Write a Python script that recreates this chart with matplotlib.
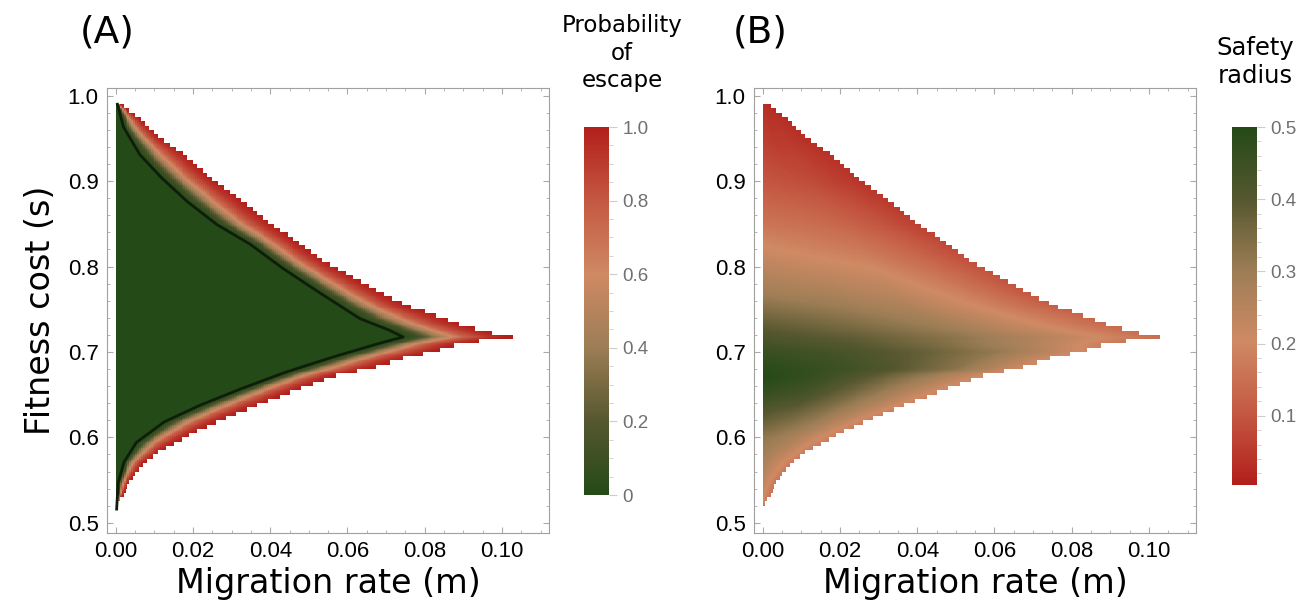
import numpy as np
import matplotlib.pyplot as plt
from matplotlib.colors import LinearSegmentedColormap
from matplotlib.ticker import MultipleLocator

# outer edge of the region where escape is possible
upper_s = [0.992, 0.9726, 0.951, 0.933, 0.904, 0.880, 0.855, 0.833, 0.810, 0.792,
           0.773, 0.755, 0.745, 0.731, 0.7215, 0.7175]
upper_m = [0.0005, 0.0063, 0.0113, 0.0172, 0.0246, 0.0318, 0.0387, 0.0457, 0.0527, 0.0596,
           0.0672, 0.0749, 0.0816, 0.0900, 0.0983, 0.1030]
lower_s = [0.7175, 0.7118, 0.7079, 0.700, 0.692, 0.680, 0.6726, 0.6588, 0.643, 0.631,
           0.6176, 0.6039, 0.588, 0.5706, 0.547, 0.5215]
lower_m = [0.1030, 0.0925, 0.0878, 0.0822, 0.0740, 0.0656, 0.0570, 0.0485, 0.0398, 0.0330,
           0.0258, 0.0195, 0.0130, 0.0074, 0.0034, 0.0005]

# black contour in panel A
inner_up_s = [0.990, 0.963, 0.931, 0.904, 0.876, 0.849, 0.826, 0.798, 0.771, 0.739, 0.7255, 0.7175]
inner_up_m = [0.0004, 0.0020, 0.0062, 0.0118, 0.0185, 0.0262, 0.0348, 0.0432, 0.0522, 0.0632, 0.0708, 0.0744]
inner_lo_s = [0.7175, 0.710, 0.694, 0.676, 0.657, 0.637, 0.618, 0.594, 0.571, 0.547, 0.516]
inner_lo_m = [0.0744, 0.0682, 0.0562, 0.0438, 0.0325, 0.0215, 0.0125, 0.0053, 0.0021, 0.0006, 0.0002]

# escape probability across the band (0 = black contour, 1 = outer edge)
a_frac = [0.0, 0.15, 0.3, 0.45, 0.6, 0.8, 1.0]
a_prob = [0.0, 0.10, 0.35, 0.58, 0.78, 0.92, 1.0]

# safety radius, rows = s, columns = fraction of the way to the outer edge
b_s = [0.52, 0.55, 0.57, 0.60, 0.62, 0.65, 0.67, 0.68, 0.70, 0.7175,
       0.73, 0.75, 0.77, 0.80, 0.82, 0.85, 0.90, 0.95, 0.99]
b_frac = [0.0, 0.25, 0.5, 0.75, 1.0]
b_r = [[0.20, 0.19, 0.18, 0.17, 0.16],
       [0.24, 0.22, 0.20, 0.18, 0.16],
       [0.27, 0.25, 0.23, 0.20, 0.17],
       [0.32, 0.30, 0.27, 0.22, 0.18],
       [0.38, 0.35, 0.31, 0.25, 0.18],
       [0.46, 0.43, 0.36, 0.28, 0.19],
       [0.50, 0.46, 0.39, 0.30, 0.20],
       [0.49, 0.46, 0.41, 0.33, 0.21],
       [0.46, 0.43, 0.38, 0.31, 0.20],
       [0.42, 0.38, 0.32, 0.24, 0.15],
       [0.39, 0.35, 0.30, 0.22, 0.14],
       [0.34, 0.31, 0.27, 0.20, 0.12],
       [0.29, 0.27, 0.24, 0.18, 0.10],
       [0.24, 0.22, 0.20, 0.15, 0.09],
       [0.21, 0.19, 0.17, 0.13, 0.08],
       [0.16, 0.15, 0.13, 0.10, 0.06],
       [0.10, 0.09, 0.08, 0.06, 0.04],
       [0.06, 0.05, 0.05, 0.04, 0.03],
       [0.03, 0.03, 0.03, 0.03, 0.02]]

cmap = LinearSegmentedColormap.from_list('esc', [(0.0, '#244a17'), (0.2, '#56572f'), (0.4, '#9c7d55'),
                                                 (0.6, '#cf8a64'), (0.8, '#c45842'), (1.0, '#b21f1b')])

tip = upper_s[-1]


def edge(s, ups, upm, los, lom):
    return np.where(s >= tip - 1e-9,
                    np.interp(s, ups[::-1], upm[::-1], left=0, right=0),
                    np.interp(s, los[::-1], lom[::-1], left=0, right=0))


# colours vary smoothly in s, but the region is cut in rows of 0.005
s_edges = np.arange(0.515, 0.9951, 0.001)
m_edges = np.arange(0.0, 0.1046, 0.0005)
s_c = (s_edges[:-1] + s_edges[1:]) / 2
m_c = (m_edges[:-1] + m_edges[1:]) / 2
s_row = 0.5175 + 0.005 * np.floor((s_c - 0.515) / 0.005)

m_cut = edge(s_row, upper_s, upper_m, lower_s, lower_m)
m_out = edge(s_c, upper_s, upper_m, lower_s, lower_m)
m_in = edge(s_c, inner_up_s, inner_up_m, inner_lo_s, inner_lo_m)

M, S = np.meshgrid(m_c, s_c)
outside = M > m_cut[:, None]

g = (M - m_in[:, None]) / np.maximum(m_out - m_in, 1e-6)[:, None]
P = np.interp(np.clip(g, 0, 1), a_frac, a_prob)
P = np.ma.masked_where(outside, P)

b_r = np.array(b_r)
row_tab = np.array([np.interp(s_c, b_s, b_r[:, j]) for j in range(len(b_frac))]).T
f = M / np.maximum(m_out, 1e-6)[:, None]
R = np.array([np.interp(np.clip(f[i], 0, 1), b_frac, row_tab[i]) for i in range(len(s_c))])
R = np.ma.masked_where(outside, R)

fig = plt.figure(figsize=(13.13, 6.09), dpi=100)
W, H = 1313, 609
axA = fig.add_axes([107 / W, 1 - 533 / H, 442 / W, 445 / H])
axB = fig.add_axes([754 / W, 1 - 533 / H, 442 / W, 445 / H])
caxA = fig.add_axes([584 / W, 1 - 495 / H, 25 / W, 368 / H])
caxB = fig.add_axes([1232 / W, 1 - 485 / H, 25 / W, 358 / H])

imA = axA.pcolormesh(m_edges, s_edges, P, cmap=cmap, vmin=0, vmax=1, shading='flat')
axA.plot(inner_up_m + inner_lo_m, inner_up_s + inner_lo_s, color='#0f1d0b', lw=2)
imB = axB.pcolormesh(m_edges, s_edges, R, cmap=cmap.reversed(), vmin=0.004, vmax=0.5, shading='flat')

for ax in (axA, axB):
    ax.set_xlim(-0.0023, 0.1122)
    ax.set_ylim(0.488, 1.009)
    ax.xaxis.set_major_locator(MultipleLocator(0.02))
    ax.xaxis.set_minor_locator(MultipleLocator(0.005))
    ax.yaxis.set_major_locator(MultipleLocator(0.1))
    ax.yaxis.set_minor_locator(MultipleLocator(0.02))
    ax.xaxis.set_major_formatter(plt.FormatStrFormatter('%.2f'))
    ax.yaxis.set_major_formatter(plt.FormatStrFormatter('%.1f'))
    ax.tick_params(which='both', direction='in', top=True, right=True, color='#aaaaaa',
                   labelsize=16, pad=6)
    ax.tick_params(which='major', length=4)
    ax.tick_params(which='minor', length=2)
    for lab in ax.get_xticklabels() + ax.get_yticklabels():
        lab.set_fontfamily('Liberation Sans')
    for sp in ax.spines.values():
        sp.set_color('#a0a0a0')
    ax.set_xlabel('Migration rate (m)', fontsize=24, labelpad=3)

axA.set_ylabel('Fitness cost (s)', fontsize=24, labelpad=8)

cbA = fig.colorbar(imA, cax=caxA, ticks=[0, 0.2, 0.4, 0.6, 0.8, 1.0])
cbA.ax.set_yticklabels(['0', '0.2', '0.4', '0.6', '0.8', '1.0'])
cbA.ax.yaxis.set_minor_locator(MultipleLocator(0.05))
cbB = fig.colorbar(imB, cax=caxB, ticks=[0.1, 0.2, 0.3, 0.4, 0.5])
cbB.ax.yaxis.set_minor_locator(MultipleLocator(0.02))
for cb in (cbA, cbB):
    cb.outline.set_visible(False)
    cb.ax.tick_params(which='both', color='#cccccc', labelcolor='#707070', labelsize=13.5)
    cb.ax.tick_params(which='major', length=6)
    cb.ax.tick_params(which='minor', length=3)
    for lab in cb.ax.get_yticklabels():
        lab.set_fontfamily('Liberation Sans')

fig.text(622 / W, 1 - 53 / H, 'Probability\nof\nescape', ha='center', va='center',
         fontsize=16.5, linespacing=1.25)
fig.text(1255 / W, 1 - 62 / H, 'Safety\nradius', ha='center', va='center',
         fontsize=17.5, linespacing=1.25)
fig.text(80 / W, 1 - 32 / H, '(A)', ha='left', va='center', fontsize=27)
fig.text(733 / W, 1 - 32 / H, '(B)', ha='left', va='center', fontsize=27)

fig.savefig('out.png', dpi=100)
